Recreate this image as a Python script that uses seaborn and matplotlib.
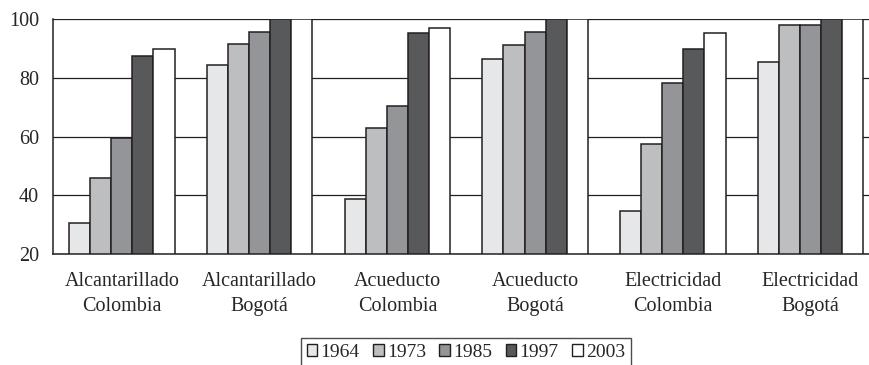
import matplotlib
matplotlib.use("Agg")
import matplotlib.pyplot as plt
from matplotlib.patches import Patch
import pandas as pd
import seaborn as sns

# Data
grupos = [
    "Alcantarillado\nColombia",
    "Alcantarillado\nBogotá",
    "Acueducto\nColombia",
    "Acueducto\nBogotá",
    "Electricidad\nColombia",
    "Electricidad\nBogotá",
]
anios = ["1964", "1973", "1985", "1997", "2003"]
v1964 = [30.6, 84.5, 38.7, 86.4, 34.5, 85.5]
v1973 = [46.0, 91.4, 62.8, 91.3, 57.4, 98.0]
v1985 = [59.5, 95.6, 70.5, 95.5, 78.1, 98.0]
v1997 = [87.4, 100.0, 95.1, 100.0, 89.8, 100.0]
v2003 = [89.8, 100.0, 96.9, 100.0, 95.2, 100.0]
colores = ["#e6e7e8", "#bcbec0", "#939598", "#58595b", "#ffffff"]

series = [v1964, v1973, v1985, v1997, v2003]
df = pd.DataFrame(
    [(g, a, vals[i]) for a, vals in zip(anios, series) for i, g in enumerate(grupos)],
    columns=["grupo", "anio", "valor"],
)

sns.set_style("white")
plt.rcParams["font.family"] = ["Liberation Serif", "DejaVu Serif"]

fig = plt.figure(figsize=(8.69, 3.65), dpi=100)
ax = fig.add_axes([0.061, 0.304, 0.951, 0.644])

edge = "#231f20"
sns.barplot(
    data=df, x="grupo", y="valor", hue="anio", order=grupos, hue_order=anios,
    palette=colores, saturation=1, width=0.765, edgecolor=edge, linewidth=1.1,
    ax=ax, legend=False,
)

ax.set_ylim(20, 100)
ax.set_xlim(-0.5, 5.5)
ax.set_yticks([20, 40, 60, 80, 100])
ax.yaxis.grid(True, color=edge, linewidth=0.9)
ax.set_axisbelow(True)

# category labels between boundary ticks
ax.set_xticks([i - 0.5 for i in range(7)])
ax.set_xticklabels([])
ax.set_xticks(range(6), minor=True)
ax.set_xticklabels(grupos, minor=True, fontsize=14.5, linespacing=1.4)
ax.tick_params(axis="x", which="major", length=5, width=1, color=edge, direction="out")
ax.tick_params(axis="x", which="minor", length=0, pad=13)
ax.tick_params(axis="y", length=4, width=1, color=edge, labelsize=14.5, pad=6)
ax.set_xlabel("")
ax.set_ylabel("")

for s in ["top", "right"]:
    ax.spines[s].set_visible(False)
for s in ["left", "bottom"]:
    ax.spines[s].set_color(edge)
    ax.spines[s].set_linewidth(1.1)

handles = [Patch(facecolor=c, edgecolor=edge, linewidth=1.0) for c in colores]
leg = fig.legend(
    handles, anios, loc="upper center", bbox_to_anchor=(0.536, 0.074), ncol=5,
    fontsize=14, frameon=True, fancybox=False, edgecolor=edge,
    handlelength=0.55, handleheight=0.55, handletextpad=0.15, columnspacing=0.7,
    borderpad=0.3, borderaxespad=0,
)
leg.get_frame().set_linewidth(1.0)

fig.savefig("out.png", dpi=100)
